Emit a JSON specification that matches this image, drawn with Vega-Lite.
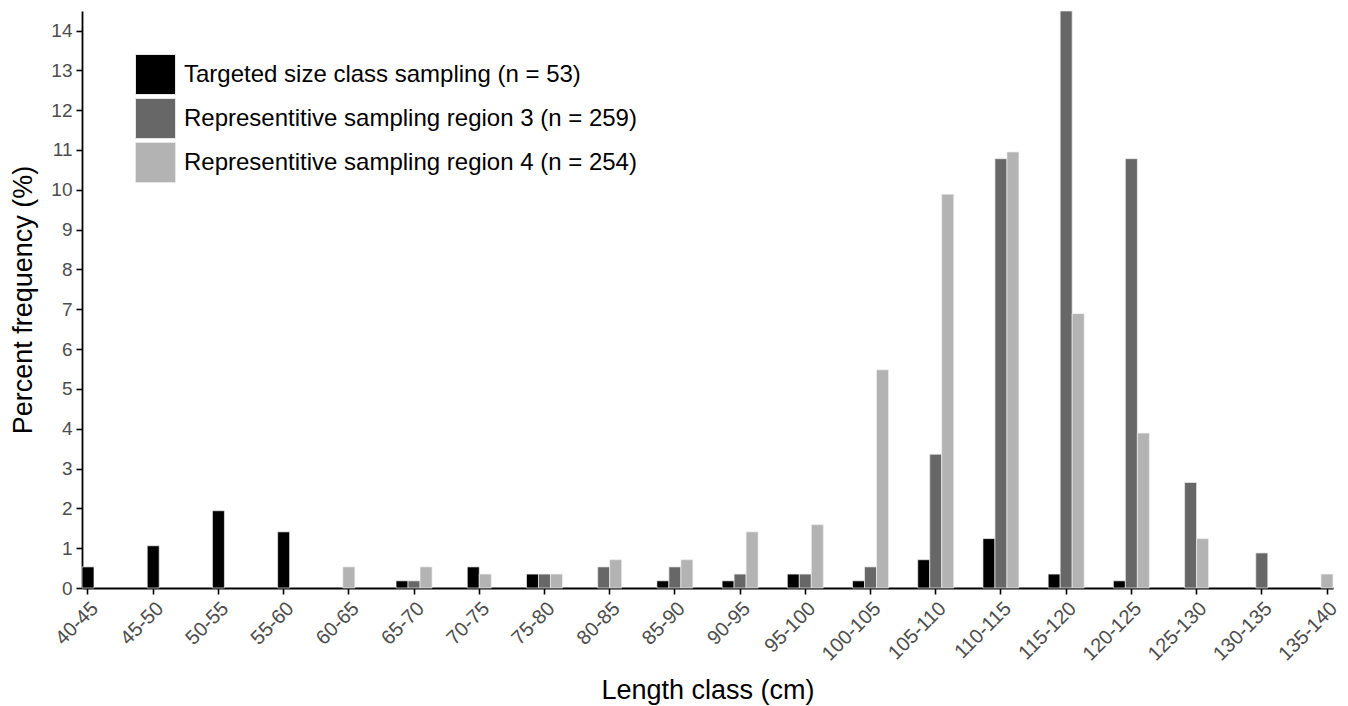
{
  "$schema": "https://vega.github.io/schema/vega-lite/v6.json",
  "autosize": "none",
  "width": 1251,
  "height": 577,
  "padding": {"left": 82, "top": 11, "right": 15, "bottom": 118},
  "background": "white",
  "config": {
    "font": "Liberation Sans",
    "view": {"stroke": null},
    "axis": {
      "grid": false,
      "domainColor": "#000000",
      "domainWidth": 1.8,
      "tickColor": "#000000",
      "tickWidth": 1.6,
      "tickSize": 6,
      "labelColor": "#4d4d4d",
      "labelFont": "Liberation Sans",
      "titleFont": "Liberation Sans",
      "titleColor": "#000000",
      "titleFontWeight": "normal",
      "titleFontSize": 27
    }
  },
  "datasets": {
    "seriesOrder": [
      {"series": "Targeted size class sampling (n = 53)", "order": 1},
      {"series": "Representitive sampling region 3 (n = 259)", "order": 2},
      {"series": "Representitive sampling region 4 (n = 254)", "order": 3}
    ],
    "freq": [
      {"cls": "40-45", "series": "Targeted size class sampling (n = 53)", "pct": 0.53},
      {"cls": "45-50", "series": "Targeted size class sampling (n = 53)", "pct": 1.06},
      {"cls": "50-55", "series": "Targeted size class sampling (n = 53)", "pct": 1.94},
      {"cls": "55-60", "series": "Targeted size class sampling (n = 53)", "pct": 1.41},
      {"cls": "60-65", "series": "Representitive sampling region 4 (n = 254)", "pct": 0.53},
      {"cls": "65-70", "series": "Targeted size class sampling (n = 53)", "pct": 0.18},
      {"cls": "65-70", "series": "Representitive sampling region 3 (n = 259)", "pct": 0.18},
      {"cls": "65-70", "series": "Representitive sampling region 4 (n = 254)", "pct": 0.53},
      {"cls": "70-75", "series": "Targeted size class sampling (n = 53)", "pct": 0.53},
      {"cls": "70-75", "series": "Representitive sampling region 4 (n = 254)", "pct": 0.35},
      {"cls": "75-80", "series": "Targeted size class sampling (n = 53)", "pct": 0.35},
      {"cls": "75-80", "series": "Representitive sampling region 3 (n = 259)", "pct": 0.35},
      {"cls": "75-80", "series": "Representitive sampling region 4 (n = 254)", "pct": 0.35},
      {"cls": "80-85", "series": "Representitive sampling region 3 (n = 259)", "pct": 0.53},
      {"cls": "80-85", "series": "Representitive sampling region 4 (n = 254)", "pct": 0.71},
      {"cls": "85-90", "series": "Targeted size class sampling (n = 53)", "pct": 0.18},
      {"cls": "85-90", "series": "Representitive sampling region 3 (n = 259)", "pct": 0.53},
      {"cls": "85-90", "series": "Representitive sampling region 4 (n = 254)", "pct": 0.71},
      {"cls": "90-95", "series": "Targeted size class sampling (n = 53)", "pct": 0.18},
      {"cls": "90-95", "series": "Representitive sampling region 3 (n = 259)", "pct": 0.35},
      {"cls": "90-95", "series": "Representitive sampling region 4 (n = 254)", "pct": 1.41},
      {"cls": "95-100", "series": "Targeted size class sampling (n = 53)", "pct": 0.35},
      {"cls": "95-100", "series": "Representitive sampling region 3 (n = 259)", "pct": 0.35},
      {"cls": "95-100", "series": "Representitive sampling region 4 (n = 254)", "pct": 1.59},
      {"cls": "100-105", "series": "Targeted size class sampling (n = 53)", "pct": 0.18},
      {"cls": "100-105", "series": "Representitive sampling region 3 (n = 259)", "pct": 0.53},
      {"cls": "100-105", "series": "Representitive sampling region 4 (n = 254)", "pct": 5.48},
      {"cls": "105-110", "series": "Targeted size class sampling (n = 53)", "pct": 0.71},
      {"cls": "105-110", "series": "Representitive sampling region 3 (n = 259)", "pct": 3.36},
      {"cls": "105-110", "series": "Representitive sampling region 4 (n = 254)", "pct": 9.89},
      {"cls": "110-115", "series": "Targeted size class sampling (n = 53)", "pct": 1.24},
      {"cls": "110-115", "series": "Representitive sampling region 3 (n = 259)", "pct": 10.78},
      {"cls": "110-115", "series": "Representitive sampling region 4 (n = 254)", "pct": 10.95},
      {"cls": "115-120", "series": "Targeted size class sampling (n = 53)", "pct": 0.35},
      {"cls": "115-120", "series": "Representitive sampling region 3 (n = 259)", "pct": 14.49},
      {"cls": "115-120", "series": "Representitive sampling region 4 (n = 254)", "pct": 6.89},
      {"cls": "120-125", "series": "Targeted size class sampling (n = 53)", "pct": 0.18},
      {"cls": "120-125", "series": "Representitive sampling region 3 (n = 259)", "pct": 10.78},
      {"cls": "120-125", "series": "Representitive sampling region 4 (n = 254)", "pct": 3.89},
      {"cls": "125-130", "series": "Representitive sampling region 3 (n = 259)", "pct": 2.65},
      {"cls": "125-130", "series": "Representitive sampling region 4 (n = 254)", "pct": 1.24},
      {"cls": "130-135", "series": "Representitive sampling region 3 (n = 259)", "pct": 0.88},
      {"cls": "135-140", "series": "Representitive sampling region 4 (n = 254)", "pct": 0.35}
    ]
  },
  "data": {"name": "freq"},
  "transform": [
    {"lookup": "series", "from": {"data": {"name": "seriesOrder"}, "key": "series", "fields": ["order"]}},
    {"joinaggregate": [{"op": "count", "as": "nInClass"}], "groupby": ["cls"]},
    {"window": [{"op": "rank", "as": "slot"}], "groupby": ["cls"], "sort": [{"field": "order", "order": "ascending"}]}
  ],
  "encoding": {
    "x": {
      "field": "cls",
      "type": "nominal",
      "scale": {
        "domain": ["40-45", "45-50", "50-55", "55-60", "60-65", "65-70", "70-75", "75-80", "80-85", "85-90", "90-95", "95-100", "100-105", "105-110", "110-115", "115-120", "120-125", "125-130", "130-135", "135-140"],
        "paddingInner": 0.816,
        "paddingOuter": 0
      },
      "axis": {
        "title": "Length class (cm)",
        "labelAngle": -45,
        "labelAlign": "right",
        "labelBaseline": "top",
        "labelFontSize": 20,
        "labelPadding": 4,
        "titleY": 102,
        "titleBaseline": "middle"
      }
    },
    "y": {
      "field": "pct",
      "type": "quantitative",
      "scale": {"domain": [0, 14.49], "nice": false},
      "axis": {
        "title": "Percent frequency (%)",
        "values": [0, 1, 2, 3, 4, 5, 6, 7, 8, 9, 10, 11, 12, 13, 14],
        "labelFontSize": 19,
        "labelPadding": 4,
        "titleX": -59,
        "titleBaseline": "middle"
      }
    },
    "color": {
      "field": "series",
      "type": "nominal",
      "scale": {
        "domain": ["Targeted size class sampling (n = 53)", "Representitive sampling region 3 (n = 259)", "Representitive sampling region 4 (n = 254)"],
        "range": ["#000000", "#676767", "#b3b3b3"]
      },
      "legend": {
        "title": null,
        "orient": "none",
        "legendX": 53,
        "legendY": 43,
        "padding": 0,
        "symbolType": "square",
        "symbolSize": 1600,
        "symbolStrokeWidth": 1,
        "symbolStrokeColor": "#e6e6e6",
        "symbolOpacity": 1,
        "labelFontSize": 24,
        "labelColor": "#000000",
        "labelLimit": 0,
        "labelOffset": 8,
        "rowPadding": -1
      }
    }
  },
  "layer": [
    {
      "transform": [{"filter": "datum.nInClass == 3"}],
      "mark": {"type": "bar", "stroke": "#eeeeee", "strokeWidth": 0.7},
      "encoding": {
        "xOffset": {"field": "slot", "type": "ordinal", "scale": {"domain": [1, 2, 3], "range": [-12, 24], "paddingInner": 0, "paddingOuter": 0}}
      }
    },
    {
      "transform": [{"filter": "datum.nInClass == 2"}],
      "mark": {"type": "bar", "stroke": "#eeeeee", "strokeWidth": 0.7},
      "encoding": {
        "xOffset": {"field": "slot", "type": "ordinal", "scale": {"domain": [1, 2], "range": [-6, 18], "paddingInner": 0, "paddingOuter": 0}}
      }
    },
    {
      "transform": [{"filter": "datum.nInClass == 1"}],
      "mark": {"type": "bar", "stroke": "#eeeeee", "strokeWidth": 0.7},
      "encoding": {
        "xOffset": {"field": "slot", "type": "ordinal", "scale": {"domain": [1], "range": [0, 12], "paddingInner": 0, "paddingOuter": 0}}
      }
    }
  ],
  "resolve": {"scale": {"xOffset": "independent"}}
}
